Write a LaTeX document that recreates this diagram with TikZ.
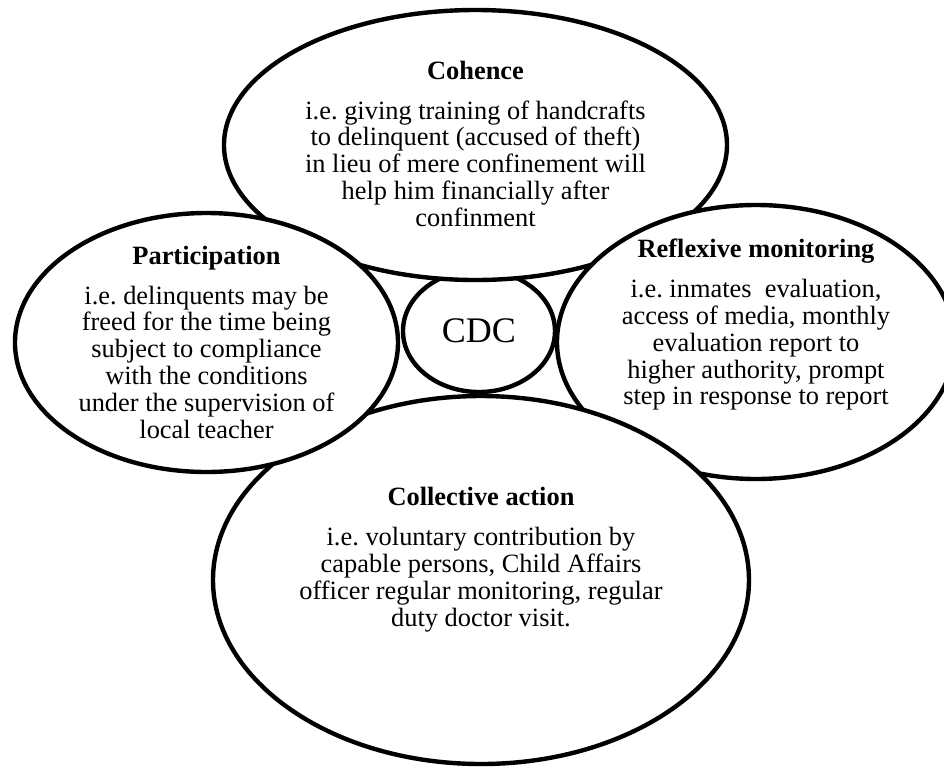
\documentclass[tikz,border=0pt]{standalone}
\usepackage{fontspec}
\setmainfont{Liberation Serif}
\frenchspacing
\usetikzlibrary{shapes.geometric, positioning}

\begin{document}
\begin{tikzpicture}[
    bubble/.style={ellipse, draw, line width=2.2pt, fill=white, inner sep=0pt, outer sep=0pt},
    bubbletext/.style={anchor=north, align=center, inner sep=0pt, font=\fontsize{13.2}{13.4}\selectfont}
]
\useasboundingbox (-239.5pt,-218.5pt) rectangle (232.5pt,165.5pt);

% Centre
\node[bubble, minimum width=76pt, minimum height=61pt, font=\fontsize{18}{20}\selectfont] (cdc) at (0,0) {CDC};

% Cohence
\node[bubble, minimum width=251.5pt, minimum height=135pt, above=-5pt of cdc, xshift=-1.75pt] (cohence) {};

% Reflexive monitoring
\node[bubble, minimum width=199pt, minimum height=137pt, right=1pt of cdc, yshift=-5.5pt] (reflexive) {};

% Collective action
\node[bubble, minimum width=268pt, minimum height=184pt, below=2pt of cdc, xshift=1pt] (collective) {};

% Participation
\node[bubble, minimum width=191.5pt, minimum height=129.5pt, left=2.5pt of cdc, yshift=-5.75pt] (participation) {};

% Texts
\node[bubbletext] (cohence-text) at ([yshift=42.35pt]cohence.center) {\textbf{Cohence}\\[6.6pt]
    i.e. giving training of handcrafts\\ to delinquent (accused of theft)\\ in lieu of mere confinement will\\
    help him financially after\\ confinment};
\node[bubbletext] (reflexive-text) at ([yshift=51.65pt]reflexive.center) {\textbf{Reflexive monitoring}\\[6.6pt]
    i.e. inmates\ \ evaluation,\\ access of media, monthly\\ evaluation report to\\
    higher authority, prompt\\ step in response to report};
\node[bubbletext] (collective-text) at ([yshift=46.5pt]collective.center) {\textbf{Collective action}\\[6.6pt]
    i.e. voluntary contribution by\\ capable persons, Child Affairs\\
    officer regular monitoring, regular\\ duty doctor visit.};
\node[bubbletext] (participation-text) at ([yshift=48.6pt]participation.center) {\textbf{Participation}\\[6.6pt]
    i.e. delinquents may be\\ freed for the time being\\ subject to compliance\\
    with the conditions\\ under the supervision of\\ local teacher};

\end{tikzpicture}
\end{document}
